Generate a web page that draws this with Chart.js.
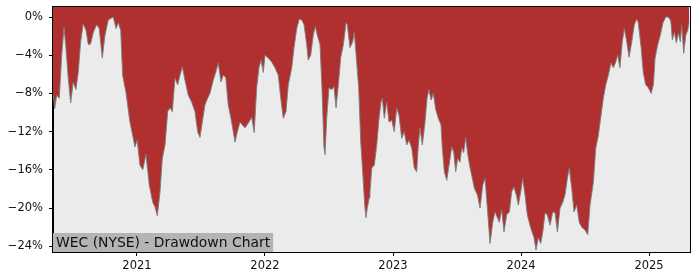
<!DOCTYPE html>
<html>
<head>
<meta charset="utf-8">
<script src="https://cdn.jsdelivr.net/npm/chart.js@4/dist/chart.umd.min.js"></script>
<style>
  html, body { margin: 0; padding: 0; background: #fff; }
</style>
</head>
<body>
<canvas id="dd" width="700" height="280"></canvas>
<script>
/*------------- dados (ano decimal, drawdown em %) -------------*/

const title = "WEC (NYSE) - Drawdown Chart";

const dates = [
  2020.344, 2020.357, 2020.373, 2020.393, 2020.412, 2020.430, 2020.445, 2020.463, 2020.482, 2020.502,
  2020.523, 2020.541, 2020.560, 2020.580, 2020.602, 2020.620, 2020.638, 2020.659, 2020.685, 2020.705,
  2020.729, 2020.750, 2020.776, 2020.802, 2020.815, 2020.836, 2020.854, 2020.873, 2020.888, 2020.914,
  2020.945, 2020.971, 2020.984, 2021.002, 2021.023, 2021.045, 2021.070, 2021.096, 2021.123, 2021.141,
  2021.159, 2021.180, 2021.198, 2021.219, 2021.240, 2021.258, 2021.276, 2021.297, 2021.318, 2021.336,
  2021.354, 2021.375, 2021.401, 2021.427, 2021.453, 2021.474, 2021.492, 2021.510, 2021.531, 2021.552,
  2021.570, 2021.596, 2021.615, 2021.635, 2021.656, 2021.674, 2021.693, 2021.713, 2021.734, 2021.752,
  2021.766, 2021.784, 2021.805, 2021.823, 2021.844, 2021.870, 2021.896, 2021.916, 2021.935, 2021.953,
  2021.969, 2021.987, 2022.000, 2022.026, 2022.052, 2022.078, 2022.104, 2022.123, 2022.143, 2022.164,
  2022.182, 2022.209, 2022.227, 2022.248, 2022.268, 2022.287, 2022.305, 2022.326, 2022.338, 2022.357,
  2022.377, 2022.393, 2022.409, 2022.430, 2022.445, 2022.461, 2022.469, 2022.482, 2022.500, 2022.521,
  2022.539, 2022.555, 2022.573, 2022.591, 2022.612, 2022.633, 2022.643, 2022.664, 2022.685, 2022.698,
  2022.716, 2022.732, 2022.748, 2022.763, 2022.779, 2022.789, 2022.799, 2022.815, 2022.820, 2022.834,
  2022.854, 2022.873, 2022.891, 2022.906, 2022.916, 2022.932, 2022.951, 2022.969, 2022.990, 2023.010,
  2023.029, 2023.047, 2023.068, 2023.088, 2023.107, 2023.125, 2023.146, 2023.166, 2023.185, 2023.198,
  2023.211, 2023.229, 2023.250, 2023.266, 2023.281, 2023.297, 2023.315, 2023.334, 2023.354, 2023.375,
  2023.385, 2023.401, 2023.420, 2023.438, 2023.459, 2023.474, 2023.490, 2023.505, 2023.523, 2023.537,
  2023.552, 2023.568, 2023.584, 2023.602, 2023.620, 2023.635, 2023.641, 2023.659, 2023.680, 2023.701,
  2023.719, 2023.737, 2023.758, 2023.779, 2023.797, 2023.815, 2023.830, 2023.849, 2023.867, 2023.888,
  2023.909, 2023.927, 2023.945, 2023.966, 2023.979, 2023.998, 2024.013, 2024.031, 2024.049, 2024.070,
  2024.086, 2024.102, 2024.117, 2024.135, 2024.154, 2024.170, 2024.188, 2024.205, 2024.227, 2024.248,
  2024.266, 2024.284, 2024.305, 2024.326, 2024.344, 2024.362, 2024.377, 2024.396, 2024.414, 2024.435,
  2024.455, 2024.474, 2024.500, 2024.521, 2024.539, 2024.565, 2024.584, 2024.604, 2024.625, 2024.643,
  2024.662, 2024.682, 2024.703, 2024.721, 2024.740, 2024.755, 2024.773, 2024.791, 2024.807, 2024.826,
  2024.844, 2024.865, 2024.885, 2024.904, 2024.916, 2024.938, 2024.955, 2024.974, 2024.995, 2025.016,
  2025.034, 2025.047, 2025.068, 2025.088, 2025.109, 2025.130, 2025.151, 2025.170, 2025.182, 2025.198,
  2025.213, 2025.229, 2025.245, 2025.255, 2025.271, 2025.287, 2025.302, 2025.313
];

const drawdown = [
  -8.0, -9.6, -8.2, -8.5, -4.0, -1.1, -3.2, -6.4, -9.0, -6.8,
  -7.6, -5.8, -2.6, -0.7, -1.4, -2.9, -2.8, -1.6, -0.8, -1.2,
  -4.3, -1.9, -0.3, -0.1, 0.0, -1.2, -0.6, -1.4, -6.1, -7.9,
  -11.0, -12.7, -13.6, -12.9, -15.5, -16.0, -14.4, -17.6, -19.4, -19.9,
  -20.8, -18.3, -14.8, -13.4, -9.9, -9.5, -9.9, -6.4, -7.1, -6.1,
  -5.2, -6.6, -8.2, -8.9, -9.9, -12.0, -12.6, -11.0, -9.2, -8.5,
  -8.0, -6.6, -5.8, -4.8, -6.8, -6.1, -6.3, -9.2, -10.6, -12.0,
  -13.1, -12.0, -11.0, -11.3, -11.6, -11.1, -10.5, -12.1, -7.4, -5.3,
  -4.5, -5.8, -4.0, -4.3, -4.7, -5.3, -6.1, -8.5, -10.6, -9.9,
  -7.1, -5.3, -3.2, -1.2, -0.2, -0.3, -0.8, -2.9, -4.5, -4.0,
  -1.9, -1.0, -1.9, -2.9, -7.4, -13.7, -14.4, -10.6, -7.4, -7.6,
  -7.3, -9.5, -7.1, -4.3, -2.9, -0.6, -0.8, -3.2, -2.6, -1.6,
  -4.7, -7.4, -13.1, -16.2, -19.7, -21.0, -20.0, -18.9, -18.3, -15.8,
  -15.5, -13.4, -10.6, -8.9, -8.5, -10.6, -8.9, -11.0, -10.8, -12.0,
  -9.5, -10.3, -12.7, -12.0, -13.4, -12.9, -13.7, -15.8, -16.2, -13.4,
  -11.6, -13.4, -11.0, -8.5, -7.6, -8.7, -8.0, -9.7, -10.6, -11.3,
  -13.7, -16.2, -17.1, -15.5, -13.6, -14.1, -16.2, -14.8, -15.2, -13.7,
  -14.2, -12.6, -14.4, -15.8, -16.9, -17.9, -18.1, -18.6, -20.0, -17.6,
  -16.9, -20.0, -23.7, -21.5, -20.4, -21.0, -21.5, -20.2, -22.5, -20.7,
  -20.4, -18.3, -17.8, -18.8, -19.7, -18.3, -16.9, -18.6, -20.7, -21.8,
  -22.5, -23.1, -24.4, -23.1, -23.7, -22.5, -20.5, -20.7, -21.8, -20.4,
  -20.5, -22.5, -20.0, -19.4, -18.6, -16.9, -15.8, -17.9, -20.4, -19.7,
  -21.5, -22.0, -22.3, -22.8, -19.7, -17.3, -13.7, -12.4, -10.3, -8.5,
  -7.1, -6.1, -4.8, -5.3, -4.7, -4.0, -5.3, -2.6, -1.2, -2.6,
  -4.2, -2.6, -0.8, -0.2, -0.6, -3.2, -5.8, -7.1, -7.4, -8.0,
  -7.1, -4.3, -2.9, -1.9, -0.6, 0.0, 0.0, -0.4, -2.4, -1.6,
  -2.7, -1.7, -2.6, -0.8, -3.8, -1.9, -1.4, -0.5
];

const yearTicks = [2021, 2022, 2023, 2024, 2025];
const pctTicks = [0, -4, -8, -12, -16, -20, -24];

/*------------- plugin: fundo cinza, moldura e rótulo -------------*/

const frame = {
  id: "frame",
  beforeDraw(chart) {
    const { ctx, chartArea: a } = chart;
    ctx.save();
    ctx.fillStyle = "#ebebeb";
    ctx.fillRect(a.left, a.top, a.right - a.left, a.bottom - a.top);
    ctx.restore();
  },
  afterDraw(chart) {
    const { ctx, chartArea: a } = chart;
    ctx.save();
    ctx.font = "13.9px 'DejaVu Sans'";
    const w = ctx.measureText(title).width;
    ctx.fillStyle = "#b4b4b4";
    ctx.fillRect(a.left, a.bottom - 19, w + 6, 19);
    ctx.fillStyle = "#111";
    ctx.textBaseline = "alphabetic";
    ctx.fillText(title, a.left + 3, a.bottom - 5);
    ctx.strokeStyle = "#000";
    ctx.lineWidth = 1;
    ctx.strokeRect(a.left - 0.5, a.top - 0.5, a.right - a.left + 1, a.bottom - a.top + 1);
    ctx.restore();
  }
};

const tickFont = { family: "'DejaVu Sans'", size: 11.5 };

new Chart(document.getElementById("dd"), {
  type: "line",
  data: {
    datasets: [{
      data: dates.map((d, i) => ({ x: d, y: drawdown[i] })),
      fill: "end",
      backgroundColor: "#b03030",
      borderColor: "rgba(125,125,125,0.9)",
      borderWidth: 1,
      pointRadius: 0,
      tension: 0
    }]
  },
  options: {
    responsive: false,
    animation: false,
    devicePixelRatio: 1,
    layout: { padding: { top: 7, right: 10, left: 0, bottom: 0 } },
    plugins: { legend: { display: false }, tooltip: { enabled: false } },
    scales: {
      x: {
        type: "linear",
        min: 2020.344,
        max: 2025.32,
        afterBuildTicks: s => { s.ticks = yearTicks.map(v => ({ value: v })); },
        afterFit: s => { s.height = 28; s.paddingLeft = 0; s.paddingRight = 0; },
        ticks: { callback: v => String(v), font: tickFont, color: "#111", padding: 3, maxRotation: 0 },
        grid: { drawOnChartArea: false, tickLength: 4, color: "#000" },
        border: { color: "#000" }
      },
      y: {
        min: -24.6,
        max: 1.05,
        afterBuildTicks: s => { s.ticks = pctTicks.map(v => ({ value: v })); },
        afterFit: s => { s.width = 53; s.paddingTop = 0; s.paddingBottom = 0; },
        ticks: {
          callback: v => (v < 0 ? "\u2212" : "") + Math.abs(v) + "%",
          font: tickFont, color: "#111", padding: 6
        },
        grid: { drawOnChartArea: false, tickLength: 4, color: "#000" },
        border: { color: "#000" }
      }
    }
  },
  plugins: [frame]
});
</script>
</body>
</html>
